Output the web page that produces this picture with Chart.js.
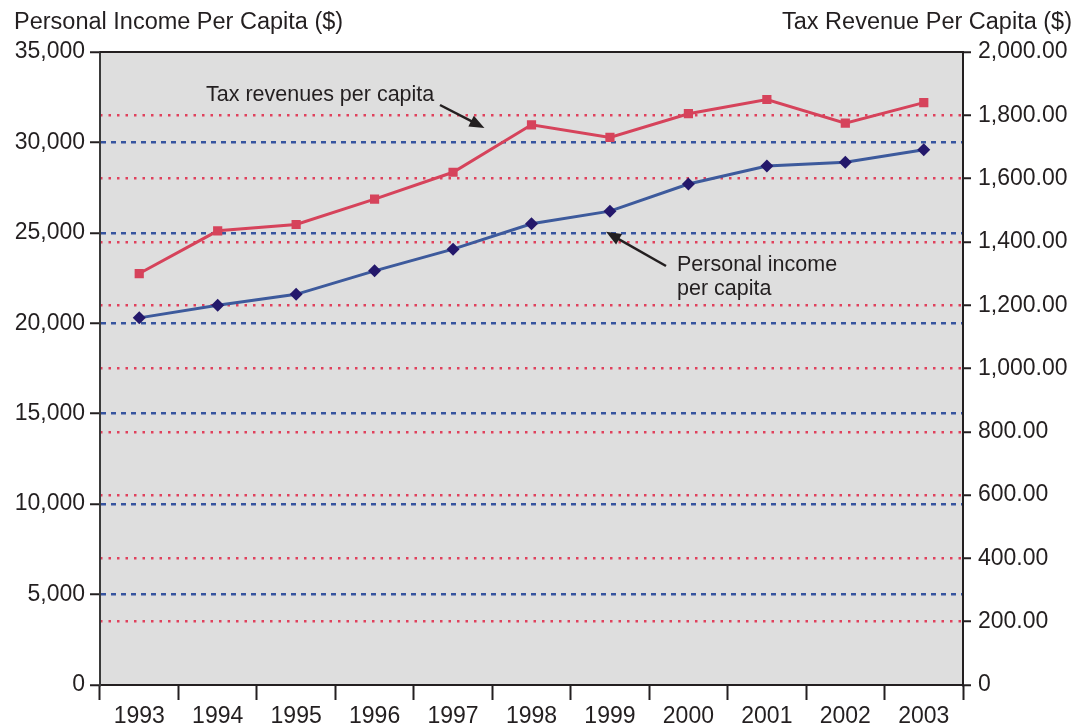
<!DOCTYPE html>
<html>
<head>
<meta charset="utf-8">
<script src="https://cdn.jsdelivr.net/npm/chart.js@4/dist/chart.umd.min.js"></script>
<style>
  html, body { margin: 0; padding: 0; background: #fff; }
  #wrap { width: 1078px; height: 727px; }
</style>
</head>
<body>
<div id="wrap"><canvas id="chart" width="1078" height="727"></canvas></div>
<script>
// data
const years = ['1993', '1994', '1995', '1996', '1997', '1998', '1999', '2000', '2001', '2002', '2003'];
const incomePerCapita = [20300, 21000, 21600, 22900, 24100, 25500, 26200, 27700, 28700, 28900, 29600];
const taxPerCapita = [1300, 1435, 1455, 1535, 1620, 1770, 1730, 1805, 1850, 1775, 1840];

const FONT = '"Liberation Sans", Arial, sans-serif';
const DARK = '#231f20';
const RED = '#d6435b';
const BLUE = '#3d5a9c';

// fond gris + bord haut + titres + annotations
const decor = {
  id: 'decor',
  beforeDraw(chart) {
    const { ctx, chartArea: a } = chart;
    ctx.save();
    ctx.fillStyle = '#dedede';
    ctx.fillRect(a.left, a.top, a.right - a.left, a.bottom - a.top);
    ctx.restore();
  },
  afterDraw(chart) {
    const { ctx, chartArea: a, scales } = chart;
    ctx.save();
    // top border
    ctx.strokeStyle = DARK;
    ctx.lineWidth = 2;
    ctx.beginPath();
    ctx.moveTo(a.left, a.top);
    ctx.lineTo(a.right, a.top);
    ctx.stroke();

    // axis titles
    ctx.fillStyle = DARK;
    ctx.font = '23.5px ' + FONT;
    ctx.textBaseline = 'middle';
    ctx.textAlign = 'left';
    ctx.fillText('Personal Income Per Capita ($)', 14, 23);
    ctx.textAlign = 'right';
    ctx.fillText('Tax Revenue Per Capita ($)', 1072, 23);

    // annotations
    ctx.font = '21.5px ' + FONT;
    ctx.textAlign = 'left';
    ctx.fillText('Tax revenues per capita', 206, 95);
    ctx.fillText('Personal income', 677, 265);
    ctx.fillText('per capita', 677, 289);

    const x = scales.x, y = scales.y, y1 = scales.y1;
    const mid = (i, f) => x.getPixelForValue(i) + f * (x.getPixelForValue(i + 1) - x.getPixelForValue(i));
    arrow(ctx, 440, 105, mid(4, 0.4), y1.getPixelForValue(1760));
    arrow(ctx, 666, 266, mid(5, 0.95), y.getPixelForValue(25000) - 1);
    ctx.restore();
  }
};

function arrow(ctx, x0, y0, x1, y1) {
  const ang = Math.atan2(y1 - y0, x1 - x0);
  const L = 15, W = 6;
  ctx.strokeStyle = DARK;
  ctx.fillStyle = DARK;
  ctx.lineWidth = 2.5;
  ctx.beginPath();
  ctx.moveTo(x0, y0);
  ctx.lineTo(x1 - Math.cos(ang) * L * 0.8, y1 - Math.sin(ang) * L * 0.8);
  ctx.stroke();
  ctx.beginPath();
  ctx.moveTo(x1, y1);
  ctx.lineTo(x1 - Math.cos(ang) * L - Math.sin(ang) * W, y1 - Math.sin(ang) * L + Math.cos(ang) * W);
  ctx.lineTo(x1 - Math.cos(ang) * L + Math.sin(ang) * W, y1 - Math.sin(ang) * L - Math.cos(ang) * W);
  ctx.closePath();
  ctx.fill();
}

const ctx = document.getElementById('chart').getContext('2d');
new Chart(ctx, {
  type: 'line',
  data: {
    labels: years,
    datasets: [
      {
        label: 'Tax revenues per capita',
        data: taxPerCapita,
        yAxisID: 'y1',
        borderColor: RED,
        backgroundColor: RED,
        borderWidth: 3,
        pointStyle: 'rect',
        pointRadius: 6.5,
        pointBackgroundColor: RED,
        pointBorderColor: RED,
        pointBorderWidth: 0,
        tension: 0
      },
      {
        label: 'Personal income per capita',
        data: incomePerCapita,
        yAxisID: 'y',
        borderColor: BLUE,
        backgroundColor: '#24186b',
        borderWidth: 3,
        pointStyle: 'rectRot',
        pointRadius: 6.5,
        pointBackgroundColor: '#24186b',
        pointBorderColor: '#24186b',
        pointBorderWidth: 0,
        tension: 0
      }
    ]
  },
  options: {
    responsive: false,
    animation: false,
    events: [],
    layout: { padding: { top: 52, left: 0, right: 0, bottom: 0 } },
    plugins: {
      legend: { display: false },
      tooltip: { enabled: false }
    },
    scales: {
      x: {
        offset: true,
        grid: {
          offset: true,
          drawOnChartArea: false,
          drawTicks: true,
          tickLength: 15,
          tickColor: DARK,
          tickWidth: 2
        },
        border: { display: true, color: DARK, width: 2 },
        ticks: { color: DARK, font: { family: FONT, size: 23 }, padding: 3, maxRotation: 0, autoSkip: false },
        afterFit(s) { s.height = 42; }
      },
      y: {
        position: 'left',
        min: 0,
        max: 35000,
        ticks: {
          stepSize: 5000,
          color: DARK,
          padding: 5,
          font: { family: FONT, size: 23 },
          callback: v => v.toLocaleString('en-US')
        },
        grid: {
          color: c => (c.tick && (c.tick.value === 0 || c.tick.value === 35000)) ? 'rgba(0,0,0,0)' : '#36549f',
          lineWidth: 2.5,
          tickColor: DARK,
          tickWidth: 2,
          tickLength: 10,
          tickBorderDash: []
        },
        border: { display: true, color: '#3a3a3a', width: 2, dash: [5, 5] },
        afterFit(s) { s.width = 100; }
      },
      y1: {
        position: 'right',
        min: 0,
        max: 2000,
        ticks: {
          stepSize: 200,
          color: DARK,
          padding: 7,
          font: { family: FONT, size: 23 },
          callback: v => v === 0 ? '0' : v.toLocaleString('en-US', { minimumFractionDigits: 2, maximumFractionDigits: 2 })
        },
        grid: {
          color: c => (c.tick && (c.tick.value === 0 || c.tick.value === 2000)) ? 'rgba(0,0,0,0)' : '#e0415c',
          lineWidth: 2.5,
          tickColor: DARK,
          tickWidth: 2,
          tickLength: 8,
          tickBorderDash: []
        },
        border: { display: true, color: DARK, width: 2, dash: [2.5, 6] },
        afterFit(s) { s.width = 115; }
      }
    }
  },
  plugins: [decor]
});
</script>
</body>
</html>
